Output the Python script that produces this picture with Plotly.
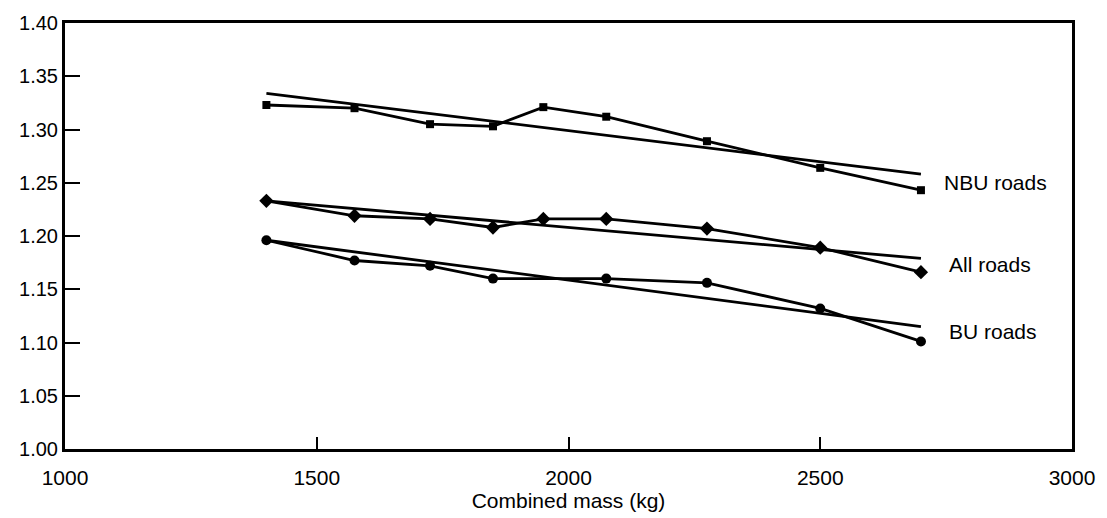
import plotly.graph_objects as go

# Combined mass (kg) for each measured point
mass_nbu = [1400, 1575, 1725, 1850, 1950, 2075, 2275, 2500, 2700]
mass_all = [1400, 1575, 1725, 1850, 1950, 2075, 2275, 2500, 2700]
mass_bu = [1400, 1575, 1725, 1850, 2075, 2275, 2500, 2700]

nbu_roads = [1.323, 1.320, 1.305, 1.303, 1.321, 1.312, 1.289, 1.264, 1.243]
all_roads = [1.233, 1.219, 1.216, 1.208, 1.216, 1.216, 1.207, 1.189, 1.166]
bu_roads = [1.196, 1.177, 1.172, 1.160, 1.160, 1.156, 1.132, 1.101]

# Linear trend lines (end points)
fit_mass = [1400, 2700]
fit_nbu = [1.334, 1.258]
fit_all = [1.233, 1.179]
fit_bu = [1.196, 1.115]

x_ticks = [1000, 1500, 2000, 2500, 3000]
y_ticks = [1.00, 1.05, 1.10, 1.15, 1.20, 1.25, 1.30, 1.35, 1.40]

series_labels = ["NBU roads", "All roads", "BU roads"]
label_x = [2742, 2752, 2752]
label_y = [1.250, 1.173, 1.110]

FONT = "Liberation Sans, Arial, Helvetica, sans-serif"
LW = 2.8

fig = go.Figure()

for xs, ys in [(fit_mass, fit_nbu), (fit_mass, fit_all), (fit_mass, fit_bu)]:
    fig.add_trace(go.Scatter(x=xs, y=ys, mode="lines",
                             line=dict(color="black", width=LW),
                             showlegend=False, hoverinfo="skip"))

fig.add_trace(go.Scatter(x=mass_nbu, y=nbu_roads, mode="lines+markers",
                         line=dict(color="black", width=LW),
                         marker=dict(symbol="square", size=8, color="black"),
                         name="NBU roads", showlegend=False))
fig.add_trace(go.Scatter(x=mass_all, y=all_roads, mode="lines+markers",
                         line=dict(color="black", width=LW),
                         marker=dict(symbol="diamond", size=11, color="black"),
                         name="All roads", showlegend=False))
fig.add_trace(go.Scatter(x=mass_bu, y=bu_roads, mode="lines+markers",
                         line=dict(color="black", width=LW),
                         marker=dict(symbol="circle", size=10, color="black"),
                         name="BU roads", showlegend=False))

for text, xv, yv in zip(series_labels, label_x, label_y):
    fig.add_annotation(x=xv, y=yv, text=text, showarrow=False,
                       xanchor="left", yanchor="middle",
                       font=dict(family=FONT, size=21, color="black"))

fig.update_layout(
    width=1107, height=518,
    margin=dict(l=65, r=25, t=15, b=67),
    paper_bgcolor="white", plot_bgcolor="white",
    font=dict(family=FONT, size=21, color="black"),
)
fig.update_xaxes(
    range=[1000, 3000], tickvals=x_ticks, ticktext=[str(v) for v in x_ticks],
    ticks="inside", ticklen=12, tickwidth=2, tickcolor="black",
    ticklabelstandoff=8,
    showline=True, linecolor="black", linewidth=3, mirror=True,
    showgrid=False, zeroline=False,
    title=dict(text="Combined mass (kg)", standoff=2,
               font=dict(family=FONT, size=21)),
    tickfont=dict(family=FONT, size=21),
)
fig.update_yaxes(
    range=[1.00, 1.40], tickvals=y_ticks,
    ticktext=[f"{v:.2f}" for v in y_ticks],
    ticks="inside", ticklen=15, tickwidth=2, tickcolor="black",
    showline=True, linecolor="black", linewidth=3, mirror=True,
    showgrid=False, zeroline=False,
    tickfont=dict(family=FONT, size=20),
)

fig.write_html("out.html")
